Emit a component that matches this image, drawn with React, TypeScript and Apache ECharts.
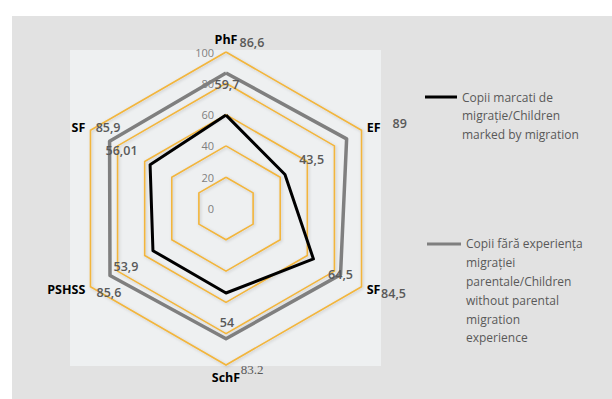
import React, { useEffect, useRef } from "react";
import * as echarts from "echarts";

// Axes in clockwise order starting at the top (as in the reference)
const categories = ["PhF", "EF", "SF", "SchF", "PSHSS", "SF"];
const migratedValues = [59.7, 43.5, 64.5, 54, 53.9, 56.01];
const nonMigratedValues = [86.6, 89, 84.5, 83.2, 85.6, 85.9];
const migratedLabels = ["59,7", "43,5", "64,5", "54", "53,9", "56,01"];
const nonMigratedLabels = ["86,6", "89", "84,5", "83.2", "85,6", "85,9"];
const tickValues = [0, 20, 40, 60, 80, 100];
const seriesNames = [
  "Copii marcati de\nmigrație/Children\nmarked by migration",
  "Copii fără experiența\nmigrației\nparentale/Children\nwithout parental\nmigration\nexperience",
];

// styling (not data): label offsets from the grey series' vertices, in px
const migratedLabelOffsets = [
  [1, 12],
  [-35, 21],
  [0, 0],
  [1, -16],
  [16, -9],
  [12, 9],
];
const nonMigratedLabelOffsets = [
  [26, -30],
  [53, -15],
  [53, 19],
  [26, 31],
  [-1, 17.5],
  [-1.5, -14],
];
const CX = 226;
const CY = 208.5;
const R = 156.5;
const FONT = "'Open Sans', 'DejaVu Sans', sans-serif";

export default function App() {
  const ref = useRef<HTMLDivElement>(null);
  useEffect(() => {
    if (!ref.current) return;
    const chart = echarts.init(ref.current, null, { renderer: "svg" });
    // ECharts places indicators counter-clockwise; reorder to get clockwise layout
    const order = [0, 5, 4, 3, 2, 1];
    const maxV = tickValues[tickValues.length - 1];
    const indicator = order.map((i, k) => {
      const ind: any = { name: categories[i], max: maxV, min: tickValues[0] };
      if (k === 0) ind.axisLabel = { show: true };
      return ind;
    });

    const vertex = (i: number, v: number) => {
      const ang = Math.PI / 2 - (i * Math.PI) / 3;
      const r = (v / maxV) * R;
      return [CX + r * Math.cos(ang), CY - r * Math.sin(ang)];
    };
    const mkLabel = (t: string, x: number, y: number, font: string) => ({
      type: "text",
      x,
      y,
      z: 10,
      style: { text: t, fill: "#595959", font, align: "center", verticalAlign: "middle" },
    });
    const labelTexts = [
      ...migratedLabels.map((t, i) => {
        const [x, y] = vertex(i, nonMigratedValues[i]);
        return mkLabel(t, x + migratedLabelOffsets[i][0], y + migratedLabelOffsets[i][1], `600 12.5px ${FONT}`);
      }),
      ...nonMigratedLabels.map((t, i) => {
        const [x, y] = vertex(i, nonMigratedValues[i]);
        const font = i === 3 ? "13px 'Liberation Serif', serif" : `600 12.5px ${FONT}`;
        return mkLabel(t, x + nonMigratedLabelOffsets[i][0], y + nonMigratedLabelOffsets[i][1], font);
      }),
    ];

    const legendText = { fontFamily: FONT, fontSize: 12, color: "#595959" };

    chart.setOption({
      animation: false,
      backgroundColor: "#ffffff",
      graphic: [
        { type: "rect", z: -10, shape: { x: 12, y: 16, width: 600, height: 383 }, style: { fill: "#e2e2e2" } },
        { type: "rect", z: -9, shape: { x: 70, y: 50, width: 311, height: 316 }, style: { fill: "#eef0f1" } },
        ...labelTexts,
      ],
      legend: [
        {
          data: [seriesNames[0]],
          left: 425,
          top: 87.75,
          padding: 0,
          orient: "vertical",
          itemWidth: 32,
          itemHeight: 55.5,
          icon: "path://M0,0L0.01,0M0,55.5L0.01,55.5M0,7.75H32V10.75H0Z",
          itemStyle: { borderWidth: 0 },
          selectedMode: false,
          textStyle: { ...legendText, lineHeight: 18.5 },
        },
        {
          data: [seriesNames[1]],
          left: 427,
          top: 234.6,
          padding: 0,
          orient: "vertical",
          itemWidth: 34,
          itemHeight: 112.8,
          icon: "path://M0,0L0.01,0M0,112.8L0.01,112.8M0,7.9H34V10.9H0Z",
          itemStyle: { borderWidth: 0 },
          selectedMode: false,
          textStyle: { ...legendText, lineHeight: 18.8 },
        },
      ],
      radar: {
        center: [CX, CY],
        radius: R,
        startAngle: 90,
        splitNumber: tickValues.length - 1,
        shape: "polygon",
        nameGap: 6,
        indicator,
        axisName: {
          color: "#000",
          fontFamily: FONT,
          fontWeight: "bold",
          fontSize: 12.5,
        },
        axisLine: { show: false },
        axisTick: { show: false },
        axisLabel: { show: false, color: "#7f7f7f", fontSize: 11, fontFamily: FONT, margin: 12 },
        splitLine: {
          lineStyle: {
            color: "#f2b53c",
            width: 1.6,
            shadowColor: "rgba(0,0,0,0.18)",
            shadowBlur: 3,
            shadowOffsetX: 1,
            shadowOffsetY: 1,
          },
        },
        splitArea: { show: false },
      },
      series: [
        {
          type: "radar",
          name: seriesNames[1],
          symbol: "none",
          z: 3,
          itemStyle: { color: "#7f7f7f" },
          lineStyle: { color: "#7f7f7f", width: 3.5 },
          data: [{ name: seriesNames[1], value: order.map((i) => nonMigratedValues[i]) }],
        },
        {
          type: "radar",
          name: seriesNames[0],
          symbol: "none",
          z: 4,
          itemStyle: { color: "#000000" },
          lineStyle: { color: "#000000", width: 3 },
          data: [{ name: seriesNames[0], value: order.map((i) => migratedValues[i]) }],
        },
      ],
    });
    return () => chart.dispose();
  }, []);
  return (
    <div
      ref={ref}
      style={{ position: "fixed", left: 0, top: 0, width: 612, height: 399 }}
    />
  );
}
